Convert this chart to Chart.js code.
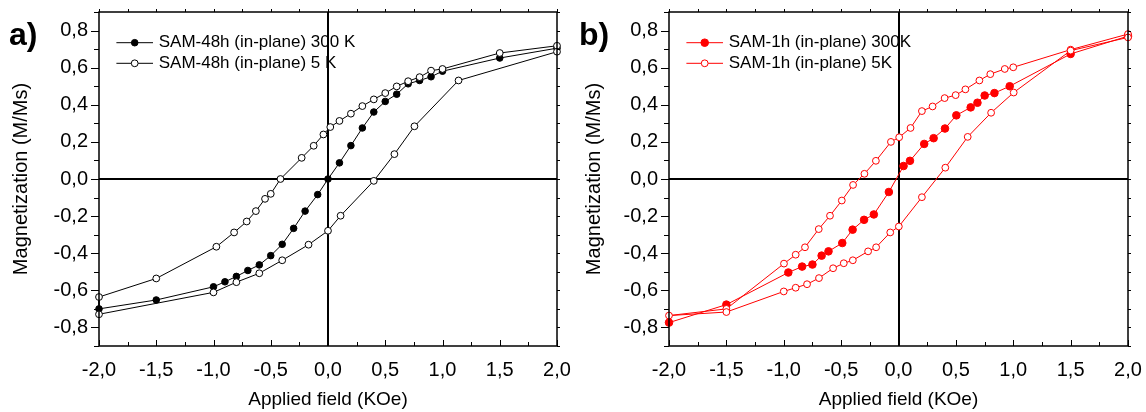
<!DOCTYPE html>
<html>
<head>
<meta charset="utf-8">
<script src="https://cdn.jsdelivr.net/npm/chart.js@4.4.1/dist/chart.umd.min.js"></script>
<style>
  html, body { margin: 0; padding: 0; background: #fff; }
  .panel { position: absolute; top: 0; width: 573px; height: 412px; }
  #panelA { left: 0; }
  #panelB { left: 573px; }
</style>
</head>
<body>
<div class="panel" id="panelA"><canvas id="chartA" width="573" height="412"></canvas></div>
<div class="panel" id="panelB"><canvas id="chartB" width="573" height="412"></canvas></div>
<script>
// applied field (kOe) / normalised magnetization (M/Ms)

// SAM-48h, 300 K
var fieldA300 = [-2.0, -1.5, -1.0, -0.9, -0.8, -0.7, -0.6, -0.5, -0.4, -0.3, -0.2, -0.09, 0.0,
                 0.1, 0.2, 0.3, 0.4, 0.5, 0.6, 0.7, 0.8, 0.9, 1.0, 1.5, 2.0];
var magA300 = [-0.70, -0.652, -0.581, -0.554, -0.525, -0.493, -0.463, -0.413, -0.352, -0.266, -0.173, -0.084, 0.0,
               0.087, 0.18, 0.275, 0.361, 0.418, 0.457, 0.513, 0.531, 0.551, 0.581, 0.652, 0.705];

// SAM-48h, 5 K (descending branch, then ascending branch)
var fieldA5 = [2.0, 1.5, 1.0, 0.9, 0.8, 0.7, 0.6, 0.5, 0.4, 0.3, 0.2, 0.1, 0.02, -0.04, -0.125, -0.23,
               -0.415, -0.5, -0.55, -0.63, -0.71, -0.82, -0.975, -1.5, -2.0,
               -2.0, -1.0, -0.8, -0.6, -0.4, -0.17, 0.0, 0.11, 0.4, 0.58, 0.755, 1.14, 2.0];
var magA5 = [0.718, 0.679, 0.593, 0.584, 0.549, 0.527, 0.499, 0.463, 0.429, 0.393, 0.352, 0.313, 0.28, 0.24, 0.179, 0.114,
             0.0, -0.08, -0.107, -0.173, -0.229, -0.288, -0.365, -0.536, -0.636,
             -0.729, -0.611, -0.556, -0.508, -0.438, -0.354, -0.279, -0.198, -0.01, 0.134, 0.284, 0.531, 0.686];

// SAM-1h, 300 K
var fieldB300 = [-2.0, -1.5, -0.96, -0.84, -0.75, -0.67, -0.61, -0.49, -0.40, -0.30, -0.215, -0.084,
                 0.044, 0.10, 0.224, 0.306, 0.405, 0.504, 0.629, 0.688, 0.751, 0.836, 0.969, 1.5, 2.0];
var magB300 = [-0.774, -0.677, -0.504, -0.472, -0.461, -0.413, -0.390, -0.345, -0.273, -0.220, -0.191, -0.07,
               0.070, 0.098, 0.189, 0.220, 0.272, 0.343, 0.386, 0.411, 0.450, 0.463, 0.500, 0.674, 0.77];

// SAM-1h, 5 K (descending branch, then ascending branch)
var fieldB5 = [2.0, 1.5, 1.0, 0.926, 0.80, 0.705, 0.583, 0.498, 0.402, 0.297, 0.204, 0.105, 0.006, -0.066,
               -0.197, -0.297, -0.396, -0.494, -0.597, -0.695, -0.815, -0.896, -0.998, -1.5, -2.0,
               -1.5, -1.0, -0.896, -0.797, -0.693, -0.570, -0.477, -0.398, -0.265, -0.195, -0.072, 0.003,
               0.204, 0.408, 0.603, 0.807, 1.004, 1.5, 2.0];
var magB5 = [0.781, 0.697, 0.602, 0.593, 0.565, 0.531, 0.483, 0.452, 0.436, 0.391, 0.366, 0.275, 0.225, 0.200,
             0.098, 0.028, -0.032, -0.116, -0.198, -0.270, -0.368, -0.408, -0.456, -0.70, -0.736,
             -0.717, -0.606, -0.586, -0.567, -0.534, -0.481, -0.454, -0.438, -0.390, -0.368, -0.288, -0.256,
             -0.098, 0.061, 0.227, 0.357, 0.466, 0.692, 0.763];

var xTicks = [-2, -1.5, -1, -0.5, 0, 0.5, 1, 1.5, 2];
var yTicks = [-0.8, -0.6, -0.4, -0.2, 0, 0.2, 0.4, 0.6, 0.8];

var FONT = '"Liberation Sans", Arial, sans-serif';

function pairs(xs, ys) {
  return xs.map(function (x, i) { return { x: x, y: ys[i] }; });
}

function comma(v) {
  return Number(v).toFixed(1).replace('.', ',');
}

// fixed box sizes, no automatic label padding
function fixBox(s, w, h) {
  if (w) s.width = w;
  if (h) s.height = h;
  s.paddingTop = 0;
  s.paddingBottom = 0;
  s.paddingLeft = 0;
  s.paddingRight = 0;
}

// zero lines underneath the data, box + ticks + legend + panel letter on top
var axesBox = {
  id: 'axesBox',
  beforeDatasetsDraw: function (chart) {
    var a = chart.chartArea, ctx = chart.ctx;
    var x0 = Math.round(chart.scales.x.getPixelForValue(0));
    var y0 = Math.round(chart.scales.y.getPixelForValue(0));
    ctx.save();
    ctx.strokeStyle = '#000';
    ctx.lineWidth = 2;
    ctx.beginPath();
    ctx.moveTo(a.left, y0); ctx.lineTo(a.right, y0);
    ctx.moveTo(x0, a.top); ctx.lineTo(x0, a.bottom);
    ctx.stroke();
    ctx.restore();
  },
  afterDraw: function (chart) {
    var a = chart.chartArea, ctx = chart.ctx;
    var xs = chart.scales.x, ys = chart.scales.y;
    var opts = chart.options.plugins.axesBox;
    var i, v, p, major;

    ctx.save();
    ctx.strokeStyle = '#000';
    ctx.lineWidth = 1.5;
    ctx.strokeRect(a.left, a.top, a.right - a.left, a.bottom - a.top);

    ctx.lineWidth = 1;
    ctx.beginPath();
    for (i = 0; i <= 16; i++) {
      v = xs.min + i * 0.25;
      p = Math.round(xs.getPixelForValue(v)) + 0.5;
      major = i % 2 === 0;
      ctx.moveTo(p, a.bottom); ctx.lineTo(p, a.bottom - (major ? 6 : 4));
      ctx.moveTo(p, a.top); ctx.lineTo(p, a.top - 3);
    }
    for (i = 0; i <= 18; i++) {
      v = ys.min + i * 0.1;
      p = Math.round(ys.getPixelForValue(v)) + 0.5;
      major = Math.round(v * 10) % 2 === 0;
      ctx.moveTo(a.left, p); ctx.lineTo(a.left - (major ? 8 : 5), p);
      ctx.moveTo(a.right, p); ctx.lineTo(a.right + 3, p);
    }
    ctx.stroke();

    // legend: line sample with a marker, then the label
    ctx.font = '17px ' + FONT;
    ctx.textBaseline = 'middle';
    chart.data.datasets.forEach(function (ds, k) {
      var y = a.top + 30.7 + k * 20.6;
      var lx0 = a.left + 17.4, lx1 = lx0 + 36.6, mx = (lx0 + lx1) / 2;
      ctx.strokeStyle = ds.borderColor;
      ctx.lineWidth = 1;
      ctx.beginPath();
      ctx.moveTo(lx0, y); ctx.lineTo(lx1, y);
      ctx.stroke();
      ctx.beginPath();
      ctx.arc(mx, y, ds.pointRadius, 0, Math.PI * 2);
      ctx.fillStyle = ds.pointBackgroundColor;
      ctx.fill();
      ctx.strokeStyle = ds.pointBorderColor;
      ctx.stroke();
      ctx.fillStyle = '#000';
      ctx.textAlign = 'left';
      ctx.fillText(ds.label, a.left + 59.7, y);
    });

    ctx.font = 'bold 32px ' + FONT;
    ctx.textBaseline = 'alphabetic';
    ctx.fillStyle = '#000';
    ctx.fillText(opts.letter, opts.letterX, 45);
    ctx.restore();
  }
};

function makeChart(id, letter, letterX, datasets, yWidth, padRight) {
  var tickFont = { family: FONT, size: 20 };
  return new Chart(document.getElementById(id), {
    type: 'scatter',
    data: { datasets: datasets },
    options: {
      responsive: false,
      animation: false,
      events: [],
      layout: { padding: { top: 12, right: padRight, bottom: 0, left: 0 } },
      plugins: {
        legend: { display: false },
        tooltip: { enabled: false },
        axesBox: { letter: letter, letterX: letterX }
      },
      scales: {
        x: {
          type: 'linear',
          min: -2,
          max: 2,
          grid: { display: false, drawTicks: false },
          border: { display: false },
          afterBuildTicks: function (s) {
            s.ticks = xTicks.map(function (v) { return { value: v }; });
          },
          afterFit: function (s) { fixBox(s, 0, 66); },
          ticks: {
            color: '#000', font: tickFont, padding: 12,
            maxRotation: 0, autoSkip: false,
            callback: function (v) { return comma(v); }
          },
          title: {
            display: true, text: 'Applied field (KOe)', color: '#000',
            font: { family: FONT, size: 19 }, padding: { top: 0, bottom: 1 }
          }
        },
        y: {
          type: 'linear',
          min: -0.9,
          max: 0.9,
          grid: { display: false, drawTicks: false },
          border: { display: false },
          afterBuildTicks: function (s) {
            s.ticks = yTicks.map(function (v) { return { value: v }; });
          },
          afterFit: function (s) { fixBox(s, yWidth, 0); },
          ticks: {
            color: '#000', font: tickFont, padding: 11, autoSkip: false,
            callback: function (v) { return comma(v); }
          },
          title: {
            display: true, text: 'Magnetization (M/Ms)', color: '#000',
            font: { family: FONT, size: 20 }, padding: { top: 9, bottom: 0 }
          }
        }
      }
    },
    plugins: [axesBox]
  });
}

function series(label, xs, ys, color, fill, radius, order) {
  return {
    label: label,
    data: pairs(xs, ys),
    showLine: true,
    borderColor: color,
    borderWidth: 1,
    pointRadius: radius,
    pointBorderWidth: 1,
    pointBackgroundColor: fill,
    pointBorderColor: color,
    order: order,
    clip: false
  };
}

makeChart('chartA', 'a)', 9, [
  series('SAM-48h (in-plane) 300 K', fieldA300, magA300, '#000', '#000', 3.3, 1),
  series('SAM-48h (in-plane) 5 K', fieldA5, magA5, '#000', '#fff', 3.4, 0)
], 99, 16);

makeChart('chartB', 'b)', 6, [
  series('SAM-1h (in-plane) 300K', fieldB300, magB300, '#ff0000', '#ff0000', 3.8, 1),
  series('SAM-1h (in-plane) 5K', fieldB5, magB5, '#ff0000', '#fff', 3.4, 0)
], 96, 18);
</script>
</body>
</html>
